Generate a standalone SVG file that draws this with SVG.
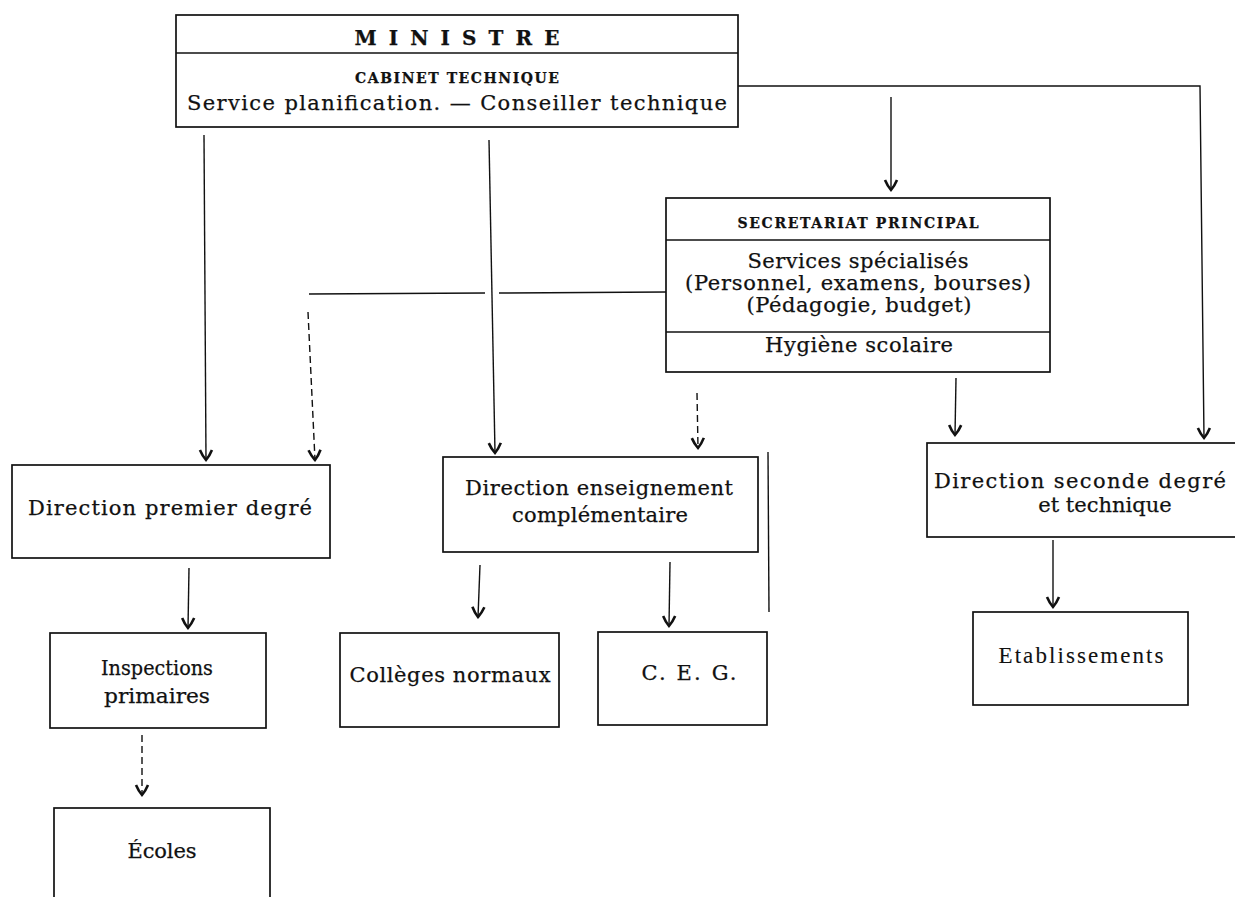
<svg xmlns="http://www.w3.org/2000/svg" width="1235" height="897" viewBox="0 0 1235 897">
<style>
.box{fill:none;stroke:#111;stroke-width:1.7}
.div{stroke:#111;stroke-width:1.5}
.conn{fill:none;stroke:#111;stroke-width:1.4}
.dash{stroke-dasharray:7 4}
.arr{marker-end:url(#ah)}
text{font-family:"DejaVu Serif","Liberation Serif",serif;fill:#111;stroke:#111;stroke-width:0.25;text-anchor:middle}
.lab{font-size:21px}
.sc{font-size:14px;font-weight:bold}
.big{font-size:20px;font-weight:bold}
.light{font-family:"Liberation Serif",serif;font-size:23px;stroke-width:0.1}
</style>
<defs>
<marker id="ah" markerUnits="userSpaceOnUse" viewBox="-12 -8 14 16" markerWidth="14" markerHeight="16" refX="0" refY="0" orient="auto" overflow="visible">
<path d="M -10 -6 Q -4 -3.5 0 0 Q -4 3.5 -10 6" fill="none" stroke="#111" stroke-width="2.6"/>
</marker>
</defs>
<rect width="1235" height="897" fill="#fff"/>

<g id="connectors">
<line class="conn arr" x1="204" y1="135" x2="206" y2="460"/>
<line class="conn arr" x1="489" y1="140" x2="495" y2="453"/>
<polyline class="conn arr" points="738,86 1200,86 1204,438"/>
<line class="conn arr" x1="891" y1="97" x2="891" y2="190"/>
<line class="conn" x1="666" y1="292" x2="499" y2="293"/>
<line class="conn" x1="485" y1="293" x2="309" y2="294"/>
<line class="conn dash arr" x1="308" y1="312" x2="315" y2="460"/>
<line class="conn dash arr" x1="697" y1="393" x2="698" y2="448"/>
<line class="conn arr" x1="956" y1="378" x2="955" y2="435"/>
<line class="conn arr" x1="189" y1="568" x2="188" y2="628"/>
<line class="conn arr" x1="480" y1="565" x2="478" y2="617"/>
<line class="conn arr" x1="670" y1="562" x2="669" y2="626"/>
<line class="conn" x1="768" y1="452" x2="769" y2="612"/>
<line class="conn arr" x1="1053" y1="540" x2="1053" y2="607"/>
<line class="conn dash arr" x1="142" y1="735" x2="142" y2="795"/>
</g>

<g id="ministre">
<rect class="box" x="176" y="15" width="562" height="112"/>
<line class="div" x1="176" y1="53" x2="738" y2="53"/>
<text class="big" x="457" y="45" textLength="205" lengthAdjust="spacing">MINISTRE</text>
<text class="sc" x="457" y="83" textLength="204" lengthAdjust="spacing">CABINET TECHNIQUE</text>
<text class="lab" x="457" y="110" textLength="540" lengthAdjust="spacing">Service planification. — Conseiller technique</text>
</g>

<g id="secretariat">
<rect class="box" x="666" y="198" width="384" height="174"/>
<line class="div" x1="666" y1="240" x2="1050" y2="240"/>
<line class="div" x1="666" y1="332" x2="1050" y2="332"/>
<text class="sc" x="858" y="228" textLength="241" lengthAdjust="spacing">SECRETARIAT PRINCIPAL</text>
<text class="lab" x="858" y="268" textLength="221" lengthAdjust="spacing">Services spécialisés</text>
<text class="lab" x="858" y="290" textLength="346" lengthAdjust="spacing">(Personnel, examens, bourses)</text>
<text class="lab" x="859" y="312" textLength="225" lengthAdjust="spacing">(Pédagogie, budget)</text>
<text class="lab" x="859" y="352" textLength="188" lengthAdjust="spacing">Hygiène scolaire</text>
</g>

<g id="dir-premier">
<rect class="box" x="12" y="465" width="318" height="93"/>
<text class="lab" x="170" y="515" textLength="284" lengthAdjust="spacing">Direction premier degré</text>
</g>

<g id="dir-complementaire">
<rect class="box" x="443" y="457" width="315" height="95"/>
<text class="lab" x="599" y="495" textLength="268" lengthAdjust="spacing">Direction enseignement</text>
<text class="lab" x="600" y="522" textLength="176" lengthAdjust="spacing">complémentaire</text>
</g>

<g id="dir-seconde">
<rect class="box" x="927" y="443" width="330" height="94"/>
<text class="lab" x="1080" y="488" textLength="292" lengthAdjust="spacing">Direction seconde degré</text>
<text class="lab" x="1105" y="512">et technique</text>
</g>

<g id="inspections">
<rect class="box" x="50" y="633" width="216" height="95"/>
<text class="lab" x="157" y="675" textLength="112" lengthAdjust="spacingAndGlyphs">Inspections</text>
<text class="lab" x="157" y="703" textLength="106" lengthAdjust="spacingAndGlyphs">primaires</text>
</g>

<g id="colleges">
<rect class="box" x="340" y="633" width="219" height="94"/>
<text class="lab" x="450" y="682" textLength="201" lengthAdjust="spacing">Collèges normaux</text>
</g>

<g id="ceg">
<rect class="box" x="598" y="632" width="169" height="93"/>
<text class="lab" x="689" y="680" textLength="95" lengthAdjust="spacing">C. E. G.</text>
</g>

<g id="etablissements">
<rect class="box" x="973" y="612" width="215" height="93"/>
<text class="light" x="1081" y="663" textLength="165" lengthAdjust="spacing">Etablissements</text>
</g>

<g id="ecoles">
<rect class="box" x="54" y="808" width="216" height="100"/>
<text class="lab" x="162" y="858" textLength="69" lengthAdjust="spacing">Écoles</text>
</g>
</svg>
